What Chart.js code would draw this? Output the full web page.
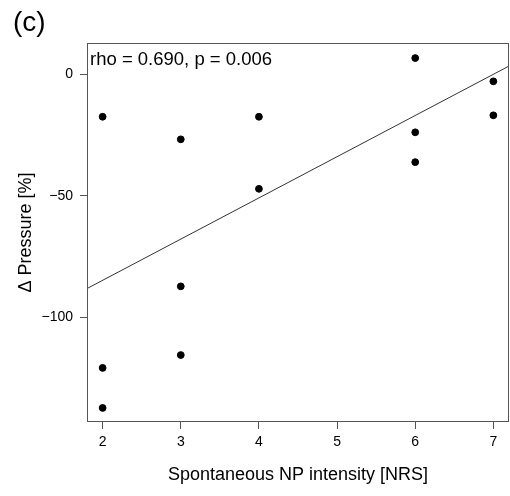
<!DOCTYPE html>
<html>
<head>
<meta charset="utf-8">
<script src="https://cdn.jsdelivr.net/npm/chart.js@4"></script>
<style>
  html, body { margin: 0; padding: 0; background: #fff; }
  #wrap { width: 510px; height: 496px; }
</style>
</head>
<body>
<div id="wrap"><canvas id="myChart" width="510" height="496"></canvas></div>
<script>
// data
let xValues = [2, 2, 2, 3, 3, 3, 4, 4, 6, 6, 6, 7, 7];
let yValues = [-17.4, -120.9, -137.4, -26.7, -87.3, -115.6, -17.4, -47.1, 6.8, -23.8, -36.1, -2.8, -16.8];
let lineX = [1.8, 7.2];
let lineY = [-88.2, 3.5];
let xTicks = [2, 3, 4, 5, 6, 7];
let yTicks = [-100, -50, 0];

let panelLabel = "(c)";
let statText = "rho = 0.690, p = 0.006";
let xTitle = "Spontaneous NP intensity [NRS]";
let yTitle = "\u0394 Pressure [%]";

let fontFamily = "'Liberation Sans', Arial, sans-serif";
let frameColor = "#555";

function toPoints(xs, ys) {
    return xs.map(function(x, i) { return { x: x, y: ys[i] }; });
}

// frame, panel label and stats text
let extras = {
    id: "extras",
    afterDraw: function(chart) {
        let ctx = chart.ctx;
        let a = chart.chartArea;
        ctx.save();
        ctx.strokeStyle = frameColor;
        ctx.lineWidth = 1;
        ctx.strokeRect(Math.round(a.left) + 0.5, Math.round(a.top) + 0.5,
            Math.round(a.right - a.left) - 1, Math.round(a.bottom - a.top) - 1);
        ctx.fillStyle = "#000";
        ctx.textBaseline = "alphabetic";
        ctx.textAlign = "left";
        ctx.font = "28px " + fontFamily;
        ctx.fillText(panelLabel, 13, 31);
        ctx.font = "18.5px " + fontFamily;
        ctx.fillText(statText, a.left + 3, 65);
        ctx.restore();
    }
};

let ctx = document.getElementById("myChart").getContext("2d");
let myChart = new Chart(ctx, {
    type: "scatter",
    data: {
        datasets: [
            {
                label: "fit",
                type: "line",
                data: toPoints(lineX, lineY),
                borderColor: "#333",
                borderWidth: 1,
                pointRadius: 0,
                fill: false
            },
            {
                label: "points",
                data: toPoints(xValues, yValues),
                backgroundColor: "#000",
                borderColor: "#000",
                pointRadius: 3.4,
                pointHoverRadius: 3.4
            }
        ]
    },
    options: {
        responsive: false,
        animation: false,
        devicePixelRatio: 1,
        layout: { autoPadding: false, padding: { top: 43, right: 1, left: 0, bottom: 0 } },
        plugins: {
            legend: { display: false },
            tooltip: { enabled: false }
        },
        scales: {
            x: {
                type: "linear",
                min: 1.8,
                max: 7.2,
                afterBuildTicks: function(axis) {
                    axis.ticks = xTicks.map(function(v) { return { value: v }; });
                },
                afterFit: function(axis) {
                    axis.height = 74;
                    axis.paddingLeft = 0;
                    axis.paddingRight = 0;
                },
                grid: {
                    drawOnChartArea: false,
                    drawTicks: true,
                    tickLength: 7,
                    color: frameColor
                },
                border: { display: false },
                ticks: {
                    color: "#000",
                    padding: 5,
                    maxRotation: 0,
                    font: { family: fontFamily, size: 14 }
                },
                title: {
                    display: true,
                    text: xTitle,
                    color: "#000",
                    font: { family: fontFamily, size: 18 },
                    padding: { top: 0, bottom: 10 }
                }
            },
            y: {
                type: "linear",
                min: -143.2,
                max: 13,
                afterBuildTicks: function(axis) {
                    axis.ticks = yTicks.map(function(v) { return { value: v }; });
                },
                afterFit: function(axis) {
                    axis.width = 87;
                    axis.paddingTop = 0;
                    axis.paddingBottom = 0;
                },
                grid: {
                    drawOnChartArea: false,
                    drawTicks: true,
                    tickLength: 7,
                    color: frameColor
                },
                border: { display: false },
                ticks: {
                    color: "#000",
                    padding: 7,
                    font: { family: fontFamily, size: 14 },
                    callback: function(v) { return String(v).replace("-", "\u2212"); }
                },
                title: {
                    display: true,
                    text: yTitle,
                    color: "#000",
                    font: { family: fontFamily, size: 18 },
                    padding: { top: 15, bottom: 0 }
                }
            }
        }
    },
    plugins: [extras]
});
</script>
</body>
</html>
